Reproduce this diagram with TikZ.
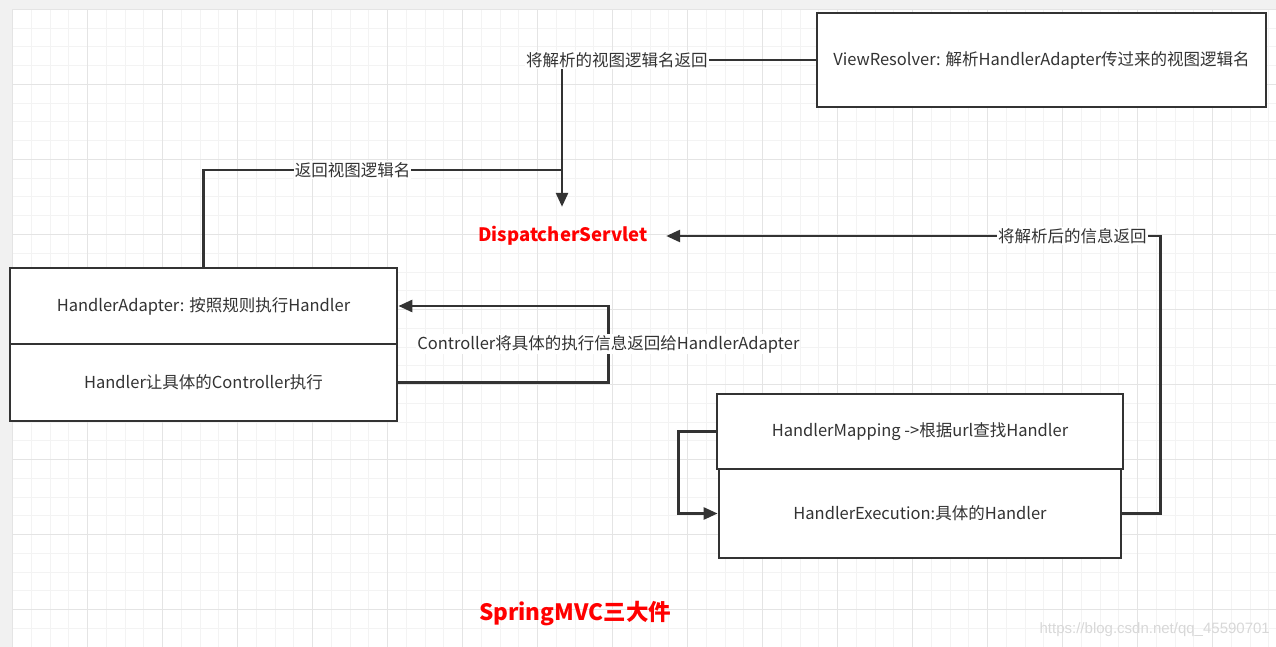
\documentclass[tikz,border=0pt]{standalone}
\usepackage{fontspec}
\setmainfont{Noto Sans CJK SC}
\newfontfamily\wmfont{Liberation Sans}
\usetikzlibrary{arrows.meta}
\definecolor{ink}{HTML}{333333}
\definecolor{outbg}{HTML}{F1F1F1}
\definecolor{gminorc}{HTML}{F3F3F3}
\definecolor{gmajorc}{HTML}{E4E4E4}
\definecolor{hot}{HTML}{FF0000}
\definecolor{wm}{HTML}{D8D8D8}
\tikzset{
  gminor/.style={draw=gminorc, line width=1pt},
  gmajor/.style={draw=gmajorc, line width=1pt},
  box/.style={draw=ink, line width=2.8pt, fill=white, inner sep=0pt, text=ink,
    font=\fontsize{16.5pt}{19pt}\selectfont},
  lbl/.style={fill=white, inner sep=1pt, text=ink, font=\fontsize{16.5pt}{19pt}\selectfont},
  title/.style={text=hot, inner sep=0pt, font=\bfseries\fontsize{18.5pt}{22pt}\selectfont},
  conn/.style={draw=ink, line width=2.7pt},
  arr/.style={conn, -{Triangle[length=14pt,width=12pt]}},
}
\begin{document}
\begin{tikzpicture}[x=1pt,y=-1pt]
\useasboundingbox (0,0) rectangle (1276,647);
% background and grid
\fill[outbg] (0,0) rectangle (1276,647);
\fill[white] (12.5,9.5) rectangle (1276,647);
\foreach \i in {0,...,67}{\draw[gminor] ({12.5+18.75*\i},9.5) -- ({12.5+18.75*\i},647);}
\foreach \j in {0,...,34}{\draw[gminor] (12.5,{9.5+18.75*\j}) -- (1276,{9.5+18.75*\j});}
\foreach \i in {0,4,...,64}{\draw[gmajor] ({12.5+18.75*\i},9.5) -- ({12.5+18.75*\i},647);}
\foreach \j in {0,4,...,32}{\draw[gmajor] (12.5,{9.5+18.75*\j}) -- (1276,{9.5+18.75*\j});}

% nodes
\node[box, minimum width=449pt, minimum height=94pt] (vr) at (1041.5,60)
  {ViewResolver: 解析HandlerAdapter传过来的视图逻辑名};
\node[title, minimum width=206pt, minimum height=58pt] (ds) at (563,236) {DispatcherServlet};
\node[box, minimum width=387pt, minimum height=76pt] (ha) at (203.5,306)
  {HandlerAdapter: 按照规则执行Handler};
\node[box, minimum width=387pt, minimum height=77pt] (hd) at (203.5,382.5)
  {Handler让具体的Controller执行};
\node[box, minimum width=406pt, minimum height=75pt] (hm) at (920,431.5)
  {HandlerMapping ->根据url查找Handler};
\node[box, minimum width=402pt, minimum height=89pt] (he) at (920,513.5)
  {HandlerExecution:具体的Handler};
\node[title, font=\bfseries\fontsize{22.5pt}{26pt}\selectfont] (smvc) at (575,614) {SpringMVC三大件};
\node[text=wm, inner sep=0pt, font=\wmfont\fontsize{15pt}{17pt}\selectfont, anchor=east] (wmk) at (1270,630)
  {https://blog.csdn.net/qq\_45590701};

\coordinate (j) at (562,170);

% connectors
\draw[arr] (vr.west) -| node[lbl, pos=0.392] {将解析的视图逻辑名返回} ([xshift=-1pt]ds.north);
\draw[conn] (ha.north) |- node[lbl, pos=0.708] {返回视图逻辑名} (j);
\draw[arr] (he.east) -- ++(38,0) |- node[lbl, pos=0.589] {将解析后的信息返回} (ds.east);
\draw[arr] (hd.east) -- ++(210,0) |- node[lbl, pos=0.25] {Controller将具体的执行信息返回给HandlerAdapter} (ha.east);
\draw[arr] (hm.west) -- ++(-37,0) |- (he.west);
\end{tikzpicture}
\end{document}
